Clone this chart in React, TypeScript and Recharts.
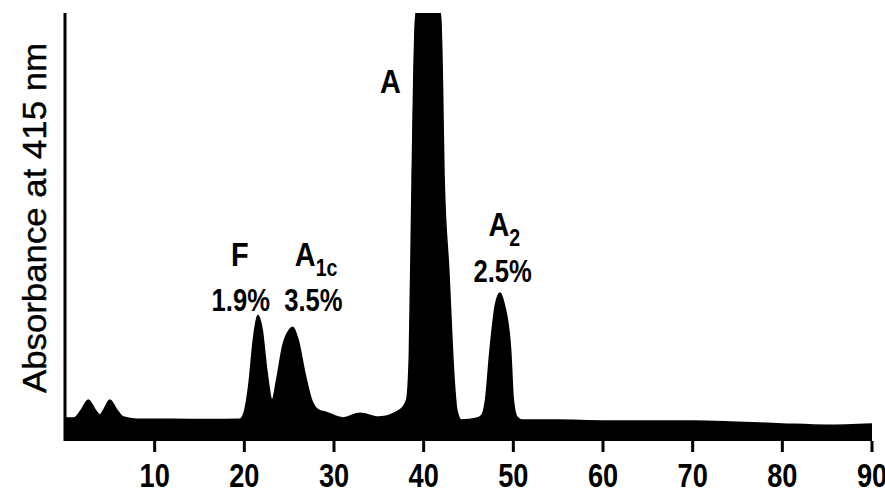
import React from 'react';
import { AreaChart, Area, XAxis, YAxis, ReferenceDot } from 'recharts';

// retention time (min)
const times = [0, 1.0, 1.8, 2.6, 3.4, 3.9, 4.3, 5.0, 5.8, 6.5, 8, 12, 16, 19.5, 20.0, 20.5, 21.0, 21.5, 22.0, 22.5, 23.1, 23.6, 24.3, 25.0, 25.4, 26.0, 26.8, 27.5, 28.3, 29, 31, 32.9, 35, 37.3, 38.1, 38.4, 38.7, 39.1, 41.9, 42.3, 42.8, 43.4, 43.7, 44.2, 46.0, 46.5, 46.9, 47.4, 48.0, 48.5, 49.0, 49.7, 50.0, 50.4, 51, 55, 60, 65, 70, 75, 80, 85, 90];
// absorbance (relative, off-scale peak clipped at 100)
const absorbance = [5.4, 5.4, 7.2, 9.6, 7.2, 6.1, 7.2, 9.6, 7.2, 5.6, 5.1, 5.1, 5.0, 5.1, 6.8, 13.1, 23.6, 29.4, 25.9, 16.6, 9.6, 14.3, 22.4, 25.9, 26.6, 23.6, 15.4, 9.6, 7.2, 6.8, 5.4, 6.5, 5.6, 7.2, 9.6, 20, 60, 100, 100, 60, 40, 14.3, 7.2, 4.9, 5.4, 6.1, 9.6, 21.3, 31.8, 34.6, 31.8, 21.3, 9.6, 5.6, 4.9, 4.9, 4.7, 4.7, 4.7, 4.4, 4.0, 3.7, 4.0];

const xTicks = [10, 20, 30, 40, 50, 60, 70, 80, 90];
const yAxisTitle = 'Absorbance at 415 nm';

// peak name labels
const peakNames = ['F', 'A', 'A', 'A'];
const peakSubs = ['', '1c', '', '2'];
const peakNameX = [19.5, 28.0, 36.3, 49.0];
const peakNameY = [40.9, 41.0, 81.3, 47.8];

// percentage labels
const percents = ['1.9%', '3.5%', '2.5%'];
const percentX = [19.6, 27.7, 48.8];
const percentY = [30.4, 30.4, 37.2];

const data = times.map((t, i) => ({ t, v: absorbance[i] }));

const FONT = "'Liberation Sans', Arial, Helvetica, sans-serif";

const renderTick = (props: any) => {
  const { x, y, payload } = props;
  return (
    <text
      transform={`translate(${x}, ${y + 35}) scale(0.8, 1)`}
      x={0}
      y={0}
      textAnchor="middle"
      fontFamily={FONT}
      fontWeight="bold"
      fontSize={34}
      fill="#000"
    >
      {payload.value}
    </text>
  );
};

const renderYTitle = (props: any) => {
  const vb = props.viewBox || {};
  const cx = (vb.x ?? 0) + 41;
  const cy = (vb.y ?? 0) + 205;
  return (
    <text
      x={cx}
      y={cy}
      transform={`rotate(-90, ${cx}, ${cy})`}
      textAnchor="middle"
      fontFamily={FONT}
      fontSize={34}
      textLength={350}
      lengthAdjust="spacingAndGlyphs"
      fill="#000"
      stroke="#000"
      strokeWidth={0.4}
    >
      {yAxisTitle}
    </text>
  );
};

const nameShape = (name: string, sub: string) => (props: any) => {
  const { cx, cy } = props;
  return (
    <text
      transform={`translate(${cx}, ${cy}) scale(0.85, 1)`}
      x={0}
      y={0}
      textAnchor="middle"
      fontFamily={FONT}
      fontWeight="bold"
      fontSize={34}
      fill="#000"
    >
      {name}
      {sub ? (
        <tspan fontSize={23} dy={10}>
          {sub}
        </tspan>
      ) : null}
    </text>
  );
};

const percentShape = (label: string) => (props: any) => {
  const { cx, cy } = props;
  return (
    <text
      transform={`translate(${cx}, ${cy}) scale(0.8, 1)`}
      x={0}
      y={0}
      textAnchor="middle"
      fontFamily={FONT}
      fontWeight="bold"
      fontSize={32}
      fill="#000"
    >
      {label}
    </text>
  );
};

export default function App() {
  return (
    <div style={{ position: 'absolute', left: 0, top: 0, width: 885, height: 503, background: '#fff' }}>
      <AreaChart width={885} height={503} data={data} margin={{ top: 13, right: 13, bottom: 0, left: 5 }}>
        <XAxis
          dataKey="t"
          type="number"
          domain={[0, 90]}
          ticks={xTicks}
          axisLine={false}
          tickLine={{ stroke: '#000', strokeWidth: 3 }}
          tickSize={11}
          tickMargin={0}
          height={62}
          tick={renderTick}
          interval={0}
        />
        <YAxis
          type="number"
          domain={[0, 100]}
          allowDataOverflow
          width={60}
          tick={false}
          tickLine={false}
          axisLine={{ stroke: '#000', strokeWidth: 3 }}
          label={{ value: yAxisTitle, content: renderYTitle }}
        />
        <Area
          type="monotone"
          dataKey="v"
          stroke="#000"
          strokeWidth={1.5}
          fill="#000"
          fillOpacity={1}
          isAnimationActive={false}
          dot={false}
          activeDot={false}
        />
        {peakNames.map((n, i) => (
          <ReferenceDot key={'n' + i} x={peakNameX[i]} y={peakNameY[i]} r={0} shape={nameShape(n, peakSubs[i])} ifOverflow="visible" />
        ))}
        {percents.map((p, i) => (
          <ReferenceDot key={'p' + i} x={percentX[i]} y={percentY[i]} r={0} shape={percentShape(p)} ifOverflow="visible" />
        ))}
      </AreaChart>
    </div>
  );
}
